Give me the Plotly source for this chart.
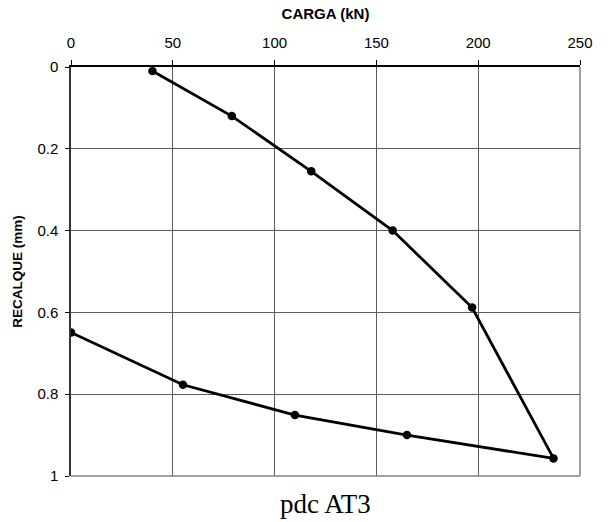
import plotly.graph_objects as go

# Load test: load (kN) vs settlement (mm), loading then unloading
carga = [40, 79, 118, 158, 197, 237, 165, 110, 55, 0]
recalque = [0.01, 0.12, 0.255, 0.40, 0.588, 0.957, 0.90, 0.851, 0.777, 0.649]

x_ticks = [0, 50, 100, 150, 200, 250]
y_ticks = [0, 0.2, 0.4, 0.6, 0.8, 1]
y_tick_text = ["0", "0.2", "0.4", "0.6", "0.8", "1"]

fig = go.Figure()
fig.add_trace(go.Scatter(
    x=carga, y=recalque, mode="lines+markers",
    line=dict(color="black", width=2.8),
    marker=dict(color="black", size=8.5),
    showlegend=False,
))

fig.update_layout(
    width=608, height=522,
    margin=dict(l=71, r=28, t=67, b=46),
    paper_bgcolor="white", plot_bgcolor="white",
    font=dict(family="Liberation Sans, Arial, sans-serif", color="black", size=15),
    xaxis=dict(
        side="top", range=[0, 250], tickvals=x_ticks,
        showgrid=True, gridcolor="#5a5a5a", gridwidth=1,
        showline=True, linecolor="black", linewidth=1.5, mirror=False,
        ticks="outside", ticklen=5, tickcolor="black",
        ticklabelstandoff=6,
        zeroline=False,
        title=dict(text="<b>CARGA (kN)</b>", font=dict(size=15), standoff=11),
    ),
    yaxis=dict(
        range=[1, 0], tickvals=y_ticks, ticktext=y_tick_text,
        showgrid=True, gridcolor="#5a5a5a", gridwidth=1,
        showline=True, linecolor="#333333", linewidth=1.5,
        ticks="outside", ticklen=4, tickcolor="black",
        ticklabelstandoff=4,
        zeroline=False,
        title=dict(text="<b>RECALQUE (mm)</b>", font=dict(size=13.5), standoff=12),
    ),
    shapes=[
        dict(type="line", xref="paper", yref="paper", x0=1, x1=1, y0=0, y1=1,
             line=dict(color="#808080", width=1.5)),
        dict(type="line", xref="paper", yref="paper", x0=0, x1=1, y0=0, y1=0,
             line=dict(color="#808080", width=1.5)),
    ],
    annotations=[
        dict(text="pdc AT3", xref="paper", yref="paper", x=0.5, y=0,
             yshift=-28, xanchor="center", yanchor="middle", showarrow=False,
             font=dict(family="Liberation Serif, Times New Roman, serif", size=27)),
    ],
)

fig.write_html("out.html")
